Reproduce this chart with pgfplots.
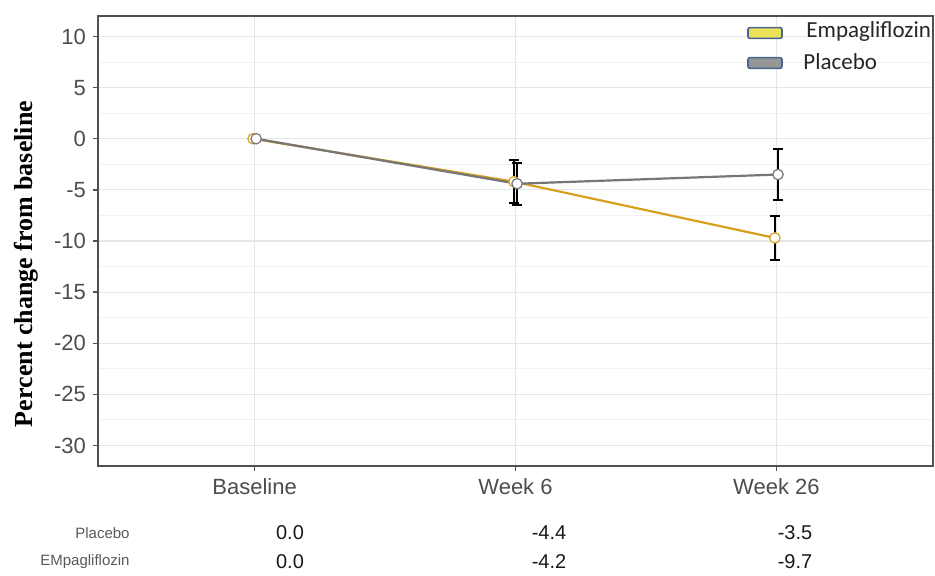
\documentclass[border=0pt]{standalone}
\usepackage{fontspec}
\setmainfont{Liberation Sans}
\newfontfamily\serifb{Liberation Serif}
\newfontfamily\carlito{Carlito}
\usepackage{pgfplots}
\pgfplotsset{compat=1.18}
\definecolor{empa}{RGB}{214,160,28}
\definecolor{plac}{RGB}{118,118,118}
\definecolor{axgray}{RGB}{80,80,80}
\definecolor{tickgray}{RGB}{77,77,77}
\definecolor{gridmaj}{RGB}{230,230,230}
\definecolor{gridmin}{RGB}{241,241,241}
\definecolor{legyel}{RGB}{236,226,90}
\definecolor{legedge}{RGB}{70,100,140}
\definecolor{leggray}{RGB}{150,150,150}
\begin{document}
\begin{tikzpicture}
\useasboundingbox (-49pt,-54.5pt) rectangle (418.5pt,233pt);
\begin{axis}[
  scale only axis, width=417.5pt, height=225pt,
  xmin=-0.6, xmax=2.6, ymin=-32, ymax=12,
  xtick={0,1,2}, xticklabels={Baseline,Week 6,Week 26},
  ytick={-30,-25,...,10},
  minor y tick num=1,
  xmajorgrids, ymajorgrids, yminorgrids,
  major grid style={gridmaj, line width=0.6pt},
  minor grid style={gridmin, line width=0.5pt},
  axis line style={axgray, line width=0.8pt},
  tick align=outside, xtick pos=bottom, ytick pos=left,
  major tick length=2.5pt, minor tick length=0pt,
  tick style={axgray, line width=0.7pt},
  /pgf/number format/assume math mode=true,
  ticklabel style={font=\fontsize{11}{13}\selectfont, text=tickgray},
  ylabel={Percent change from baseline},
  ylabel style={at={(axis description cs:-0.0862,0.449)}, anchor=center, rotate=0, font=\serifb\bfseries\fontsize{13}{15}\selectfont},
  clip=false,
]
\addplot[empa, line width=1.1pt, mark=*, mark size=2.6pt,
  mark options={fill=white, draw=empa, line width=0.6pt},
  error bars/.cd, y dir=both, y explicit,
  error bar style={black, line width=0.9pt},
  error mark options={rotate=90, mark size=2.6pt, black, line width=0.9pt}]
  table[x=x, y=y, y error=e] {
  x       y     e
  -0.006  0.0   0
  0.994  -4.2   2.1
  1.994  -9.7   2.15
};
\addplot[plac, line width=1.1pt, mark=*, mark size=2.6pt,
  mark options={fill=white, draw=plac, line width=0.6pt},
  error bars/.cd, y dir=both, y explicit,
  error bar style={black, line width=0.9pt},
  error mark options={rotate=90, mark size=2.6pt, black, line width=0.9pt}]
  table[x=x, y=y, y error=e] {
  x       y     e
  0.006   0.0   0
  1.006  -4.4   2.05
  2.006  -3.5   2.5
};
\end{axis}
% legend
\draw[legedge, line width=0.8pt, fill=legyel, rounded corners=1pt] (325pt,213.8pt) rectangle (342pt,219.2pt);
\draw[legedge, line width=0.8pt, fill=leggray, rounded corners=1pt] (325pt,198.8pt) rectangle (342pt,204.2pt);
\node[anchor=west, inner sep=0pt, font=\carlito\fontsize{11.5}{13}\selectfont, text=black!85] at (354pt,217.5pt) {Empagliflozin};
\node[anchor=west, inner sep=0pt, font=\carlito\fontsize{11.5}{13}\selectfont, text=black!85] at (352.5pt,202pt) {Placebo};
% table below
\node[anchor=east, inner sep=0pt, font=\fontsize{7.5}{9}\selectfont, text=black!65] at (16pt,-33.5pt) {Placebo};
\node[anchor=east, inner sep=0pt, font=\fontsize{7.5}{9}\selectfont, text=black!65] at (16pt,-48pt) {EMpagliflozin};
\foreach \xx/\a/\b in {96/0.0/0.0, 225.5/-4.4/-4.2, 348.5/-3.5/-9.7}{
  \node[inner sep=0pt, font=\fontsize{10}{12}\selectfont, text=black!90] at (\xx pt,-33.5pt) {\a};
  \node[inner sep=0pt, font=\fontsize{10}{12}\selectfont, text=black!90] at (\xx pt,-48pt) {\b};
}
\end{tikzpicture}
\end{document}
